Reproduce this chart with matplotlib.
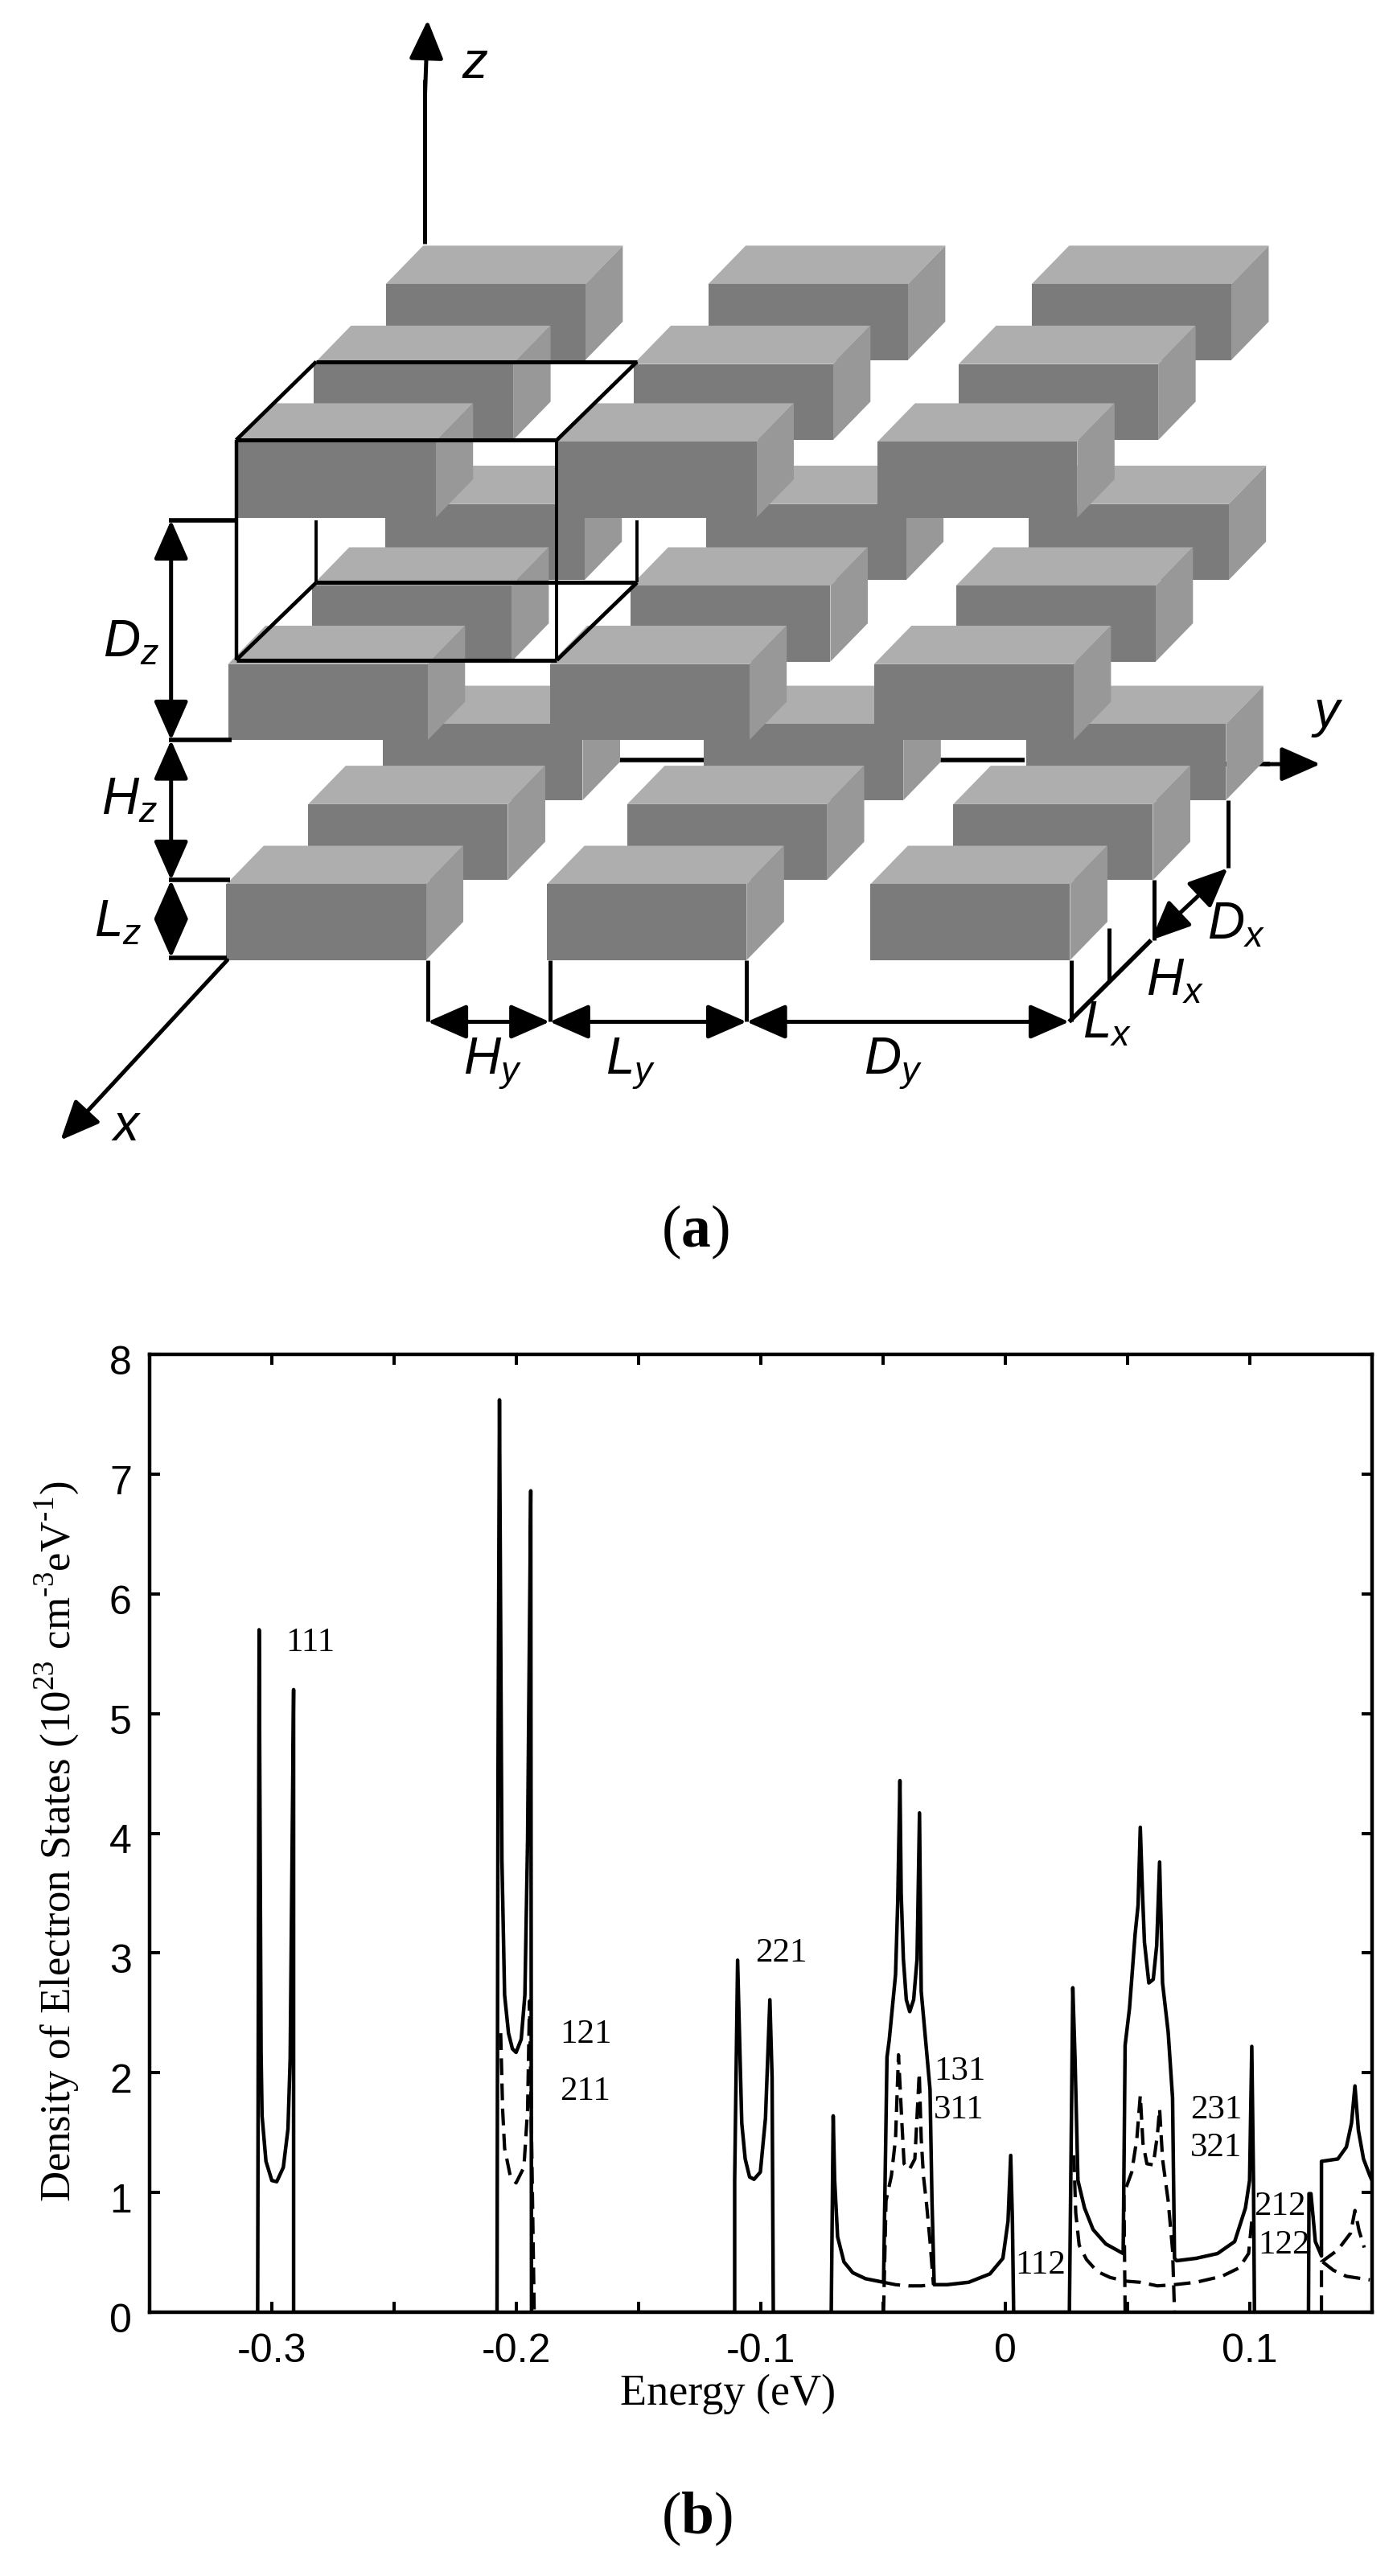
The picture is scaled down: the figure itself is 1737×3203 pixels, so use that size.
import numpy as np
import matplotlib
matplotlib.use('Agg')
import matplotlib.pyplot as plt
import matplotlib.patches as mpatches
from matplotlib.transforms import ScaledTranslation

plt.rcParams['font.family'] = ['Liberation Serif', 'DejaVu Sans']
plt.rcParams['mathtext.fontset'] = 'custom'
plt.rcParams['mathtext.rm'] = 'Liberation Serif'
plt.rcParams['mathtext.bf'] = 'Liberation Serif:bold'
plt.rcParams['mathtext.it'] = 'Liberation Sans:italic'

# density of states, total (solid)
solid_e = [-0.3058, -0.3052, -0.3044, -0.3040, -0.3024, -0.3000, -0.2980, -0.2953, -0.2934, -0.2925, -0.2911, -0.2911,
           -0.2079, -0.2075, -0.2069, -0.2059, -0.2048, -0.2032, -0.2016, -0.2001, -0.1980, -0.1965, -0.1954, -0.1941, -0.1938,
           -0.1107, -0.1107, -0.1095, -0.1085, -0.1078, -0.1064, -0.1046, -0.1028, -0.1002, -0.0981, -0.0963, -0.0954, -0.0949,
           -0.0712, -0.0704, -0.0698, -0.0686, -0.0660, -0.0624, -0.0572, -0.0498,
           -0.0493, -0.0484, -0.0475, -0.0449, -0.0440, -0.0431, -0.0426, -0.0417, -0.0405, -0.0391, -0.0375, -0.0361,
           -0.0351, -0.0344, -0.0326, -0.0308, -0.0300, -0.0291, -0.0238, -0.0150, -0.0063, -0.0010, 0.0011, 0.0022, 0.0029, 0.0034,
           0.0262, 0.0276, 0.0285, 0.0297, 0.0324, 0.0359, 0.0411, 0.0482,
           0.0490, 0.0508, 0.0531, 0.0543, 0.0552, 0.0561, 0.0569, 0.0587, 0.0605, 0.0619, 0.0631, 0.0643, 0.0666, 0.0684,
           0.0692, 0.0701, 0.0780, 0.0868, 0.0938, 0.0982, 0.0999, 0.1008, 0.1015, 0.1019,
           0.1240, 0.1242, 0.1250, 0.1268, 0.1293, 0.1293, 0.1360, 0.1395, 0.1416, 0.1430, 0.1444, 0.1465, 0.1491, 0.1500]
solid_d = [0, 5.70, 2.17, 1.64, 1.26, 1.10, 1.09, 1.21, 1.53, 2.12, 5.20, 0,
           0, 4.47, 7.62, 3.78, 2.65, 2.33, 2.20, 2.17, 2.28, 2.65, 3.94, 6.86, 0,
           0, 1.10, 2.94, 2.13, 1.58, 1.28, 1.13, 1.11, 1.17, 1.62, 2.61, 1.96, 0,
           0, 1.64, 1.10, 0.63, 0.42, 0.33, 0.28, 0.25,
           0.93, 2.13, 2.27, 2.82, 3.43, 4.44, 3.50, 2.95, 2.61, 2.51, 2.61, 2.95,
           4.17, 2.68, 2.27, 1.86, 0.93, 0.23, 0.23, 0.25, 0.32, 0.45, 0.76, 1.31, 0.76, 0,
           0, 2.71, 2.13, 1.10, 0.87, 0.69, 0.57, 0.49,
           2.23, 2.54, 3.16, 3.40, 4.05, 3.50, 3.09, 2.75, 2.78, 3.06, 3.76, 2.75, 2.34, 1.79,
           0.45, 0.43, 0.45, 0.49, 0.59, 0.87, 1.10, 2.22, 1.10, 0,
           0, 0.99, 0.99, 0.59, 0.47, 1.26, 1.28, 1.38, 1.58, 1.89, 1.52, 1.28, 1.14, 1.10]

# density of states, individual states (dashed)
dash_121_e = [-0.2064, -0.2056, -0.2048, -0.2024, -0.2001, -0.1969, -0.1954, -0.1946, -0.1927]
dash_121_d = [2.33, 1.69, 1.37, 1.13, 1.08, 1.21, 1.69, 2.60, 0]
dash_131_e = [-0.0498, -0.0488, -0.0466, -0.0449, -0.0437, -0.0423, -0.0414, -0.0393, -0.0370, -0.0352, -0.0344, -0.0335, -0.0322, -0.0308, -0.0294]
dash_131_d = [0, 0.93, 1.14, 1.45, 2.15, 1.58, 1.24, 1.19, 1.28, 2.00, 1.45, 1.14, 0.90, 0.59, 0.23]
dash_112_e = [-0.0498, -0.0449, -0.0396, -0.0344, -0.0291]
dash_112_d = [0.25, 0.23, 0.22, 0.22, 0.23]
dash_212_e = [0.0280, 0.0288, 0.0302, 0.0332, 0.0376, 0.0429, 0.0490, 0.0552, 0.0622, 0.0692, 0.0780, 0.0886, 0.0956, 0.0995, 0.1008]
dash_212_d = [1.31, 0.83, 0.56, 0.44, 0.34, 0.29, 0.26, 0.25, 0.22, 0.23, 0.25, 0.30, 0.37, 0.49, 0.76]
dash_231_e = [0.0490, 0.0485, 0.0517, 0.0538, 0.0552, 0.0563, 0.0579, 0.0605, 0.0622, 0.0631, 0.0643, 0.0666, 0.0684, 0.0692]
dash_231_d = [0, 0.99, 1.17, 1.45, 1.81, 1.41, 1.24, 1.23, 1.48, 1.70, 1.28, 0.93, 0.52, 0]
dash_122a_e = [0.1293, 0.1293, 0.1360, 0.1412, 0.1430, 0.1447, 0.1468]
dash_122a_d = [0, 0.42, 0.52, 0.66, 0.85, 0.68, 0.54]
dash_122b_e = [0.1298, 0.1342, 0.1395, 0.1491]
dash_122b_d = [0.42, 0.35, 0.30, 0.27]

state_labels = ['111', '121', '211', '221', '131', '311', '112', '231', '321', '212', '122']
label_e = [-0.2843, -0.1717, -0.1720, -0.0918, -0.0186, -0.0189, 0.0144, 0.0863, 0.0863, 0.1123, 0.1140]
label_d = [5.59, 2.32, 1.84, 2.995, 2.01, 1.69, 0.39, 1.69, 1.37, 0.88, 0.56]

x_ticks = [-0.35, -0.3, -0.25, -0.2, -0.15, -0.1, -0.05, 0, 0.05, 0.1, 0.15]
x_ticklabels = ['', '-0.3', '', '-0.2', '', '-0.1', '', '0', '', '0.1', '']
y_ticks = [0, 1, 2, 3, 4, 5, 6, 7, 8]

# schematic: left corners of the box front faces, back row first, per layer
layers = [
    [[430, 790, 1152], [346, 704, 1070], [254, 614, 977]],
    [[432, 793, 1155], [350, 708, 1073], [256, 617, 981]],
    [[433, 795, 1158], [352, 711, 1076], [265, 625, 985]],
]
layer_tops = [[905, 1005, 1105], [630, 732, 830], [355, 455, 552]]

W, H = 1737, 3203
fig = plt.figure(figsize=(W / 100, H / 100), dpi=100)

# panel (a), in units of the schematic
ax = fig.add_axes([0, 1 - 1560 / H, 1, 1560 / H])
ax.set_xlim(0, 1568)
ax.set_ylim(1568, 0)
ax.axis('off')

def line(xs, ys, lw=3.2, z=1):
    ax.plot(xs, ys, color='black', lw=lw, solid_capstyle='butt', zorder=z)

def arrow(p0, p1, style='-|>', z=5):
    ax.add_patch(mpatches.FancyArrowPatch(p0, p1, arrowstyle=style + ',head_length=1.25,head_width=0.55',
                                          mutation_scale=24, lw=3.6, color='black', shrinkA=0, shrinkB=0, zorder=z))

# lines behind the boxes
line([477, 477], [305, 100], lw=3.6)
line([695, 790], [950, 950], lw=4)
line([1055, 1150], [950, 950], lw=4)
line([1375, 1425], [955, 955], lw=4)

z_box = 2
w, h, dx, dy = 224, 95, 42, -48
for tops, rows in zip(layer_tops, layers):
    for top, row in zip(tops, rows):
        for x0 in row:
            ax.add_patch(plt.Polygon([(x0, top), (x0 + w, top), (x0 + w + dx, top + dy), (x0 + dx, top + dy)],
                                     fc='#aeaeae', ec='none', zorder=z_box))
            ax.add_patch(plt.Polygon([(x0 + w, top), (x0 + w + dx, top + dy), (x0 + w + dx, top + dy + h), (x0 + w, top + h)],
                                     fc='#989898', ec='none', zorder=z_box))
            ax.add_patch(plt.Rectangle((x0, top), w, h, fc='#7b7b7b', ec='none', zorder=z_box))
        z_box += 0.01
    z_box += 0.1

# unit cell wire frame
wire_x = [[265, 625], [355, 715], [265, 625], [355, 715], [265, 355], [625, 715], [265, 355], [625, 715],
          [265, 265], [625, 625], [355, 355], [715, 715]]
wire_y = [[550, 550], [452, 452], [825, 825], [728, 728], [550, 452], [550, 452], [825, 728], [825, 728],
          [550, 825], [550, 825], [650, 728], [650, 728]]
wire_lw = [3.6, 3.6, 3.6, 3.6, 3.4, 3.4, 3.4, 3.4, 3.2, 2.8, 2.8, 2.8]
for xs, ys, lw in zip(wire_x, wire_y, wire_lw):
    line(xs, ys, lw=lw, z=4)

# axes arrows
arrow((477, 120), (480, 25))
arrow((255, 1200), (68, 1425))
arrow((1420, 955), (1482, 955))

# dimension lines
for y0, x1 in [(650, 265), (925, 260), (1100, 258), (1197, 255)]:
    line([190, x1], [y0, y0], lw=4, z=4)
for x0 in [480, 617, 838, 1202]:
    line([x0, x0], [1200, 1277], lw=3.6, z=4)
for a0, a1 in [(650, 925), (925, 1100), (1100, 1197)]:
    arrow((192, a0), (192, a1), '<|-|>')
for a0, a1 in [(480, 617), (617, 838), (838, 1200)]:
    arrow((a0, 1277), (a1, 1277), '<|-|>')
line([1200, 1292], [1277, 1175], lw=4, z=4)
arrow((1292, 1175), (1378, 1085), '<|-|>')
line([1245, 1245], [1160, 1225], lw=3.6, z=4)
line([1295, 1295], [1100, 1175], lw=3.6, z=4)
line([1378, 1378], [1000, 1085], lw=3.6, z=4)

# labels of the schematic
dim_labels = ['$z$', '$x$', '$y$', '$D_z$', '$H_z$', '$L_z$', '$H_y$', '$L_y$', '$D_y$', '$L_x$', '$H_x$', '$D_x$']
dim_x = [533, 142, 1490, 147, 145, 132, 553, 708, 1002, 1243, 1319, 1387]
dim_y = [82, 1410, 895, 805, 1002, 1155, 1330, 1330, 1330, 1282, 1228, 1158]
for s, xp, yp in zip(dim_labels, dim_x, dim_y):
    ax.text(xp, yp, s, fontsize=46, ha='center', va='center', zorder=6)

# panel (b)
left, right, top, bottom = 186, 1706, 1684, 2875
ax2 = fig.add_axes([left / W, 1 - bottom / H, (right - left) / W, (bottom - top) / H])
ax2.plot(solid_e, solid_d, color='black', lw=3.2)
for xs, ys in [(dash_121_e, dash_121_d), (dash_131_e, dash_131_d), (dash_112_e, dash_112_d), (dash_212_e, dash_212_d),
               (dash_231_e, dash_231_d), (dash_122a_e, dash_122a_d), (dash_122b_e, dash_122b_d)]:
    ax2.plot(xs, ys, color='black', lw=3, dashes=(5, 2.5))
ax2.set_xlim(-0.35, 0.15)
ax2.set_ylim(0, 8)
ax2.set_xticks(x_ticks)
ax2.set_xticklabels(x_ticklabels, fontfamily='Liberation Sans', fontsize=36)
ax2.set_yticks(y_ticks)
ax2.set_yticklabels([str(t) for t in y_ticks], fontfamily='Liberation Sans', fontsize=36)
ax2.tick_params(direction='in', top=True, right=True, length=9.5, width=2.9, pad=16)
ax2.tick_params(axis='x', pad=19)
# the y tick labels sit a little under their ticks
for lab in ax2.get_yticklabels():
    lab.set_transform(lab.get_transform() + ScaledTranslation(0, -7 / 100, fig.dpi_scale_trans))
for sp in ax2.spines.values():
    sp.set_linewidth(3.2)
for s, xp, yp in zip(state_labels, label_e, label_d):
    ax2.text(xp, yp, s, fontsize=31, ha='center', va='center')

def fig_text(xp, yp, s, **kw):
    fig.text(xp / W, 1 - yp / H, s, ha='center', va='center', **kw)

fig_text(905, 2977, 'Energy (eV)', fontsize=39)
fig_text(71, 2290, 'Density of Electron States (10$^{23}$ cm$^{\u20103}$eV$^{\u20101}$)', fontsize=38, rotation=90)
fig_text(864, 1532, r'($\mathbf{a}$)', fontsize=53)
fig_text(866, 3132, r'($\mathbf{b}$)', fontsize=53)

fig.savefig('out.png', dpi=100)
